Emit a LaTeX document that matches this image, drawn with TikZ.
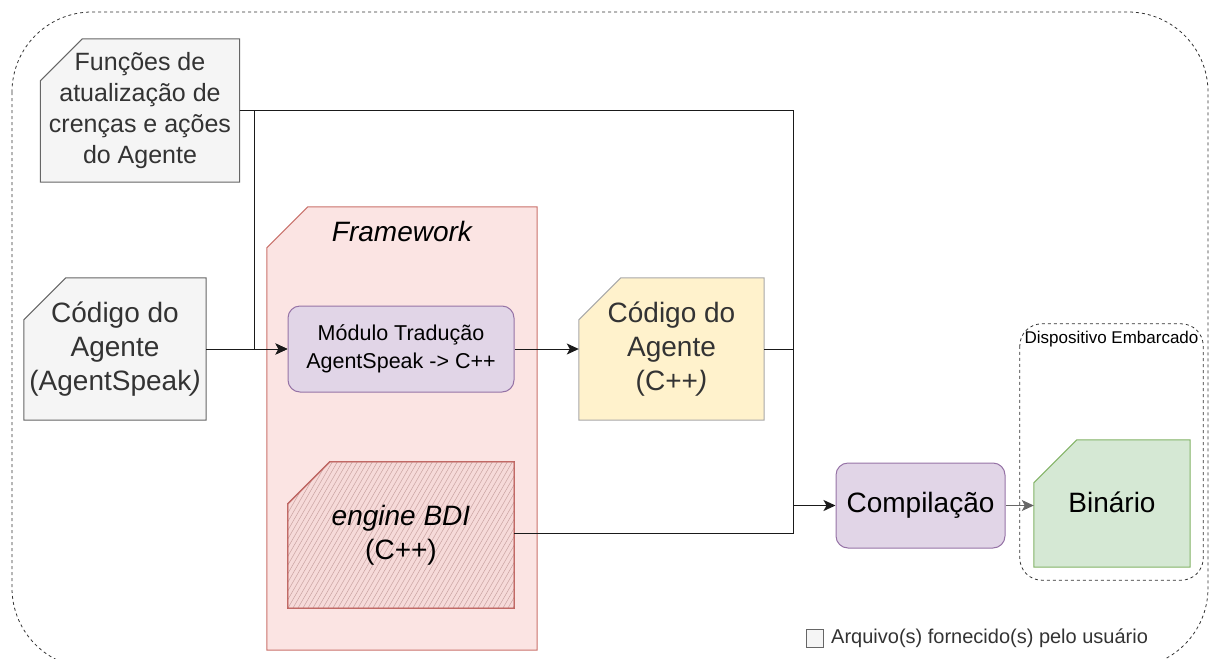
\documentclass[tikz,border=0pt]{standalone}
\usepackage{fontspec}
\setmainfont{Liberation Sans}
\usetikzlibrary{arrows.meta,backgrounds}

\definecolor{greyfill}{HTML}{F5F5F5}
\definecolor{greyline}{HTML}{666666}
\definecolor{txtgrey}{HTML}{333333}
\definecolor{fwfill}{HTML}{FBE4E3}
\definecolor{fwline}{HTML}{C9716B}
\definecolor{redline}{HTML}{B85450}
\definecolor{hatchline}{HTML}{C9A3A1}
\definecolor{purfill}{HTML}{E1D5E7}
\definecolor{purline}{HTML}{9673A6}
\definecolor{yelfill}{HTML}{FFF2CC}
\definecolor{yelline}{HTML}{A8A8A8}
\definecolor{grnfill}{HTML}{D5E8D4}
\definecolor{grnline}{HTML}{82B366}
\definecolor{edge}{HTML}{1A1A1A}

% outline of a box whose top-left corner is cut off
\newcommand\chamferpath[3]{%
  \path[#1] (#2.south west) -- ([yshift=-#3pt]#2.north west)
    -- ([xshift=#3pt]#2.north west) -- (#2.north east)
    -- (#2.south east) -- cycle;}

\tikzset{
  holder/.style={inner sep=0pt, align=center},
  bigtext/.style={font=\fontsize{28}{34}\selectfont},
  greyshape/.style={fill=greyfill, draw=greyline, line width=1pt},
  roundbox/.style={draw=purline, fill=purfill, line width=1pt, rounded corners=12pt, inner sep=0pt, align=center},
  link/.style={draw=edge, line width=1pt},
  arrowlink/.style={link, -{Stealth[length=12pt,width=11pt,inset=3pt]}},
  frame/.style={draw=txtgrey, line width=0.8pt, dash pattern=on 3pt off 3pt},
}

\begin{document}
\begin{tikzpicture}[x=1pt,y=-1pt]
\useasboundingbox (0,0) rectangle (1219,659);

% outer dashed enclosure (its lower edge runs past the page)
\path[frame, rounded corners=80pt] (12,12) rectangle (1208,668);

% --- nodes ---
\node[holder, minimum width=199pt, minimum height=143pt, text=txtgrey,
      font=\fontsize{25}{31}\selectfont] (fun) at (140,110.5)
  {Funções de\\atualização de\\crenças e ações\\do Agente};

\node[holder, bigtext, minimum width=182pt, minimum height=142pt, text=txtgrey] (cag) at (115,349)
  {Código do\\Agente\\(AgentSpeak\textit{)}};

\node[holder, minimum width=270pt, minimum height=443pt] (fw) at (402,428.5) {};
\node[holder, bigtext] (fwt) at (402,231) {\itshape Framework};

\node[roundbox, minimum width=226pt, minimum height=86pt,
      font=\fontsize{21.5}{27.5}\selectfont] (mod) at (401,349)
  {Módulo Tradução\\AgentSpeak -> C++};

\node[holder, bigtext, minimum width=226pt, minimum height=146pt] (eng) at (401,535)
  {\itshape engine BDI\\(C++)};

\node[holder, bigtext, minimum width=185pt, minimum height=142pt, text=txtgrey] (cpp) at (671.5,349)
  {Código do\\Agente\\(C++\textit{)}};

\node[roundbox, bigtext, minimum width=169pt, minimum height=85pt] (comp) at (920.5,505.5)
  {Compilação};

\node[holder, minimum width=183pt, minimum height=256pt] (dev) at (1111.5,452) {};
\node[holder, font=\fontsize{17}{20}\selectfont, anchor=north] (devt) at (1111.5,331)
  {Dispositivo Embarcado};

\node[holder, bigtext, minimum width=156pt, minimum height=127pt] (bin) at (1112,503.5)
  {\raisebox{3pt}{Binário}};

\node[holder, minimum width=17pt, minimum height=18pt, fill=greyfill, draw=greyline,
      line width=0.8pt] (leg) at (814.5,638) {};
\node[holder, anchor=west, font=\fontsize{20}{24}\selectfont, text=txtgrey] (legt) at (831,638)
  {Arquivo(s) fornecido(s) pelo usuário};

% --- shapes behind the texts ---
\begin{scope}[on background layer]
  \chamferpath{greyshape}{fun}{42}
  \chamferpath{greyshape}{cag}{42}
  \chamferpath{fill=fwfill, draw=fwline, line width=1pt}{fw}{41}
  \chamferpath{fill=yelfill, draw=yelline, line width=1pt}{cpp}{42}
  \chamferpath{fill=grnfill, draw=grnline, line width=1pt}{bin}{43}
  \path[frame, rounded corners=22pt] (dev.north west) rectangle (dev.south east);
  % hatched engine block: shadow, hachure, outline
  \chamferpath{draw=black!40, line width=1pt, shift={(3,3)}}{eng}{42}
  \begin{scope}
    \chamferpath{clip}{eng}{42}
    \fill[fill=fwfill!93!redline] (eng.north west) rectangle (eng.south east);
    \foreach \k in {0,5,...,330}
      \draw[hatchline, line width=0.5pt] (288+\k-90,608) -- (288+\k,452);
  \end{scope}
  \chamferpath{draw=redline, line width=1.3pt}{eng}{42}
  \chamferpath{draw=redline!80, line width=0.7pt, shift={(1.5,-1.5)}}{eng}{42}
\end{scope}

% --- connectors ---
\coordinate (bus) at (793,505.5);
\draw[arrowlink] (cag.east) -- (mod.west);
\draw[link] (fun.east |- 0,110) -- (bus |- 0,110) -- (bus);
\draw[arrowlink] (fun.east |- 0,110) -- (254,110) |- (mod.west);
\draw[arrowlink] (mod.east) -- (cpp.west);
\draw[link] (cpp.east) -- (cpp.east -| bus);
\draw[link] (eng.east |- 0,533) -| (bus);
\draw[arrowlink, line width=1.6pt] (bus) -- (comp.west);
\draw[arrowlink, draw=greyline] (comp.east) -- (comp.east -| bin.west);
\end{tikzpicture}
\end{document}
